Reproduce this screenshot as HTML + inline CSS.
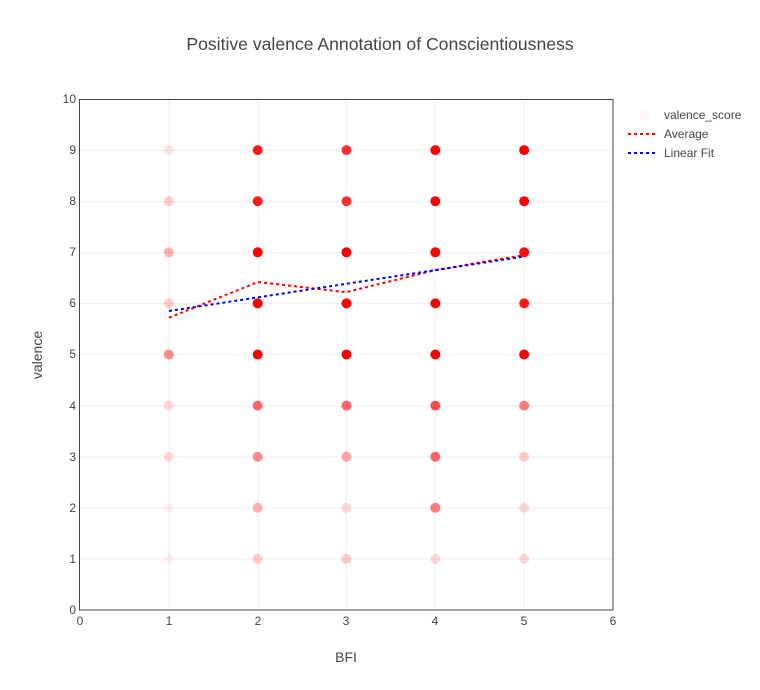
<!DOCTYPE html>
<html><head><meta charset="utf-8"><style>body{margin:0;background:#fff}svg{display:block;font-family:"Liberation Sans","DejaVu Sans",sans-serif}</style></head><body>
<svg width="760" height="690" viewBox="0 0 760 690">
<rect width="760" height="690" fill="#fff"/>
<g stroke="#eee" stroke-width="1">
<line x1="169" y1="99" x2="169" y2="610"/><line x1="258" y1="99" x2="258" y2="610"/><line x1="346" y1="99" x2="346" y2="610"/><line x1="435" y1="99" x2="435" y2="610"/><line x1="524" y1="99" x2="524" y2="610"/>
<line x1="80" y1="559" x2="613" y2="559"/><line x1="80" y1="508" x2="613" y2="508"/><line x1="80" y1="457" x2="613" y2="457"/><line x1="80" y1="406" x2="613" y2="406"/><line x1="80" y1="354.5" x2="613" y2="354.5"/><line x1="80" y1="303.5" x2="613" y2="303.5"/><line x1="80" y1="252.5" x2="613" y2="252.5"/><line x1="80" y1="201.5" x2="613" y2="201.5"/><line x1="80" y1="150.5" x2="613" y2="150.5"/>
</g>
<rect x="79.5" y="99.5" width="533.5" height="510.5" fill="none" stroke="#444" stroke-width="1"/>
<g fill="red" id="pts"></g>
<polyline points="169,317.7 258,282 346,292.2 435,270.2 524,255" fill="none" stroke="red" stroke-width="2" stroke-dasharray="3,3"/>
<polyline points="169,311 524,256.5" fill="none" stroke="blue" stroke-width="2" stroke-dasharray="3,3"/>
<g font-size="12" fill="#444" text-anchor="end">
<text x="76" y="614">0</text><text x="76" y="563">1</text><text x="76" y="512">2</text><text x="76" y="461">3</text><text x="76" y="410">4</text><text x="76" y="358">5</text><text x="76" y="307">6</text><text x="76" y="256">7</text><text x="76" y="205">8</text><text x="76" y="154">9</text><text x="76" y="103">10</text>
</g>
<g font-size="12" fill="#444" text-anchor="middle">
<text x="80" y="625">0</text><text x="169" y="625">1</text><text x="258" y="625">2</text><text x="346" y="625">3</text><text x="435" y="625">4</text><text x="524" y="625">5</text><text x="613" y="625">6</text>
</g>
<text x="380" y="50" font-size="17.6" fill="#444" text-anchor="middle">Positive valence Annotation of Conscientiousness</text>
<text x="346" y="662" font-size="14" fill="#444" text-anchor="middle">BFI</text>
<text x="42" y="355" font-size="14" fill="#444" text-anchor="middle" transform="rotate(-90 42 355)">valence</text>
<circle cx="645" cy="115" r="5" fill="red" opacity="0.04"/>
<line x1="628" y1="134" x2="658" y2="134" stroke="red" stroke-width="2" stroke-dasharray="3,3"/>
<line x1="628" y1="153" x2="658" y2="153" stroke="blue" stroke-width="2" stroke-dasharray="3,3"/>
<g font-size="12" fill="#444"><text x="664" y="119">valence_score</text><text x="664" y="138">Average</text><text x="664" y="157">Linear Fit</text></g>
</svg>
<script>
var op={1:[.05,.05,.15,.15,.45,.2,.3,.2,.1],2:[.2,.3,.45,.6,1,1,1,.9,.9],3:[.2,.15,.35,.6,1,1,1,.8,.8],4:[.15,.5,.6,.7,1,1,1,1,1],5:[.15,.15,.2,.5,1,.9,.95,1,1]};
var g=document.getElementById('pts'),s='';
for(var x=1;x<=5;x++)for(var y=1;y<=9;y++){s+='<circle cx="'+(80+88.83*x)+'" cy="'+(610-51.1*y)+'" r="5" fill-opacity="'+op[x][y-1]+'"/>';}
g.innerHTML=s;
</script>
</body></html>
